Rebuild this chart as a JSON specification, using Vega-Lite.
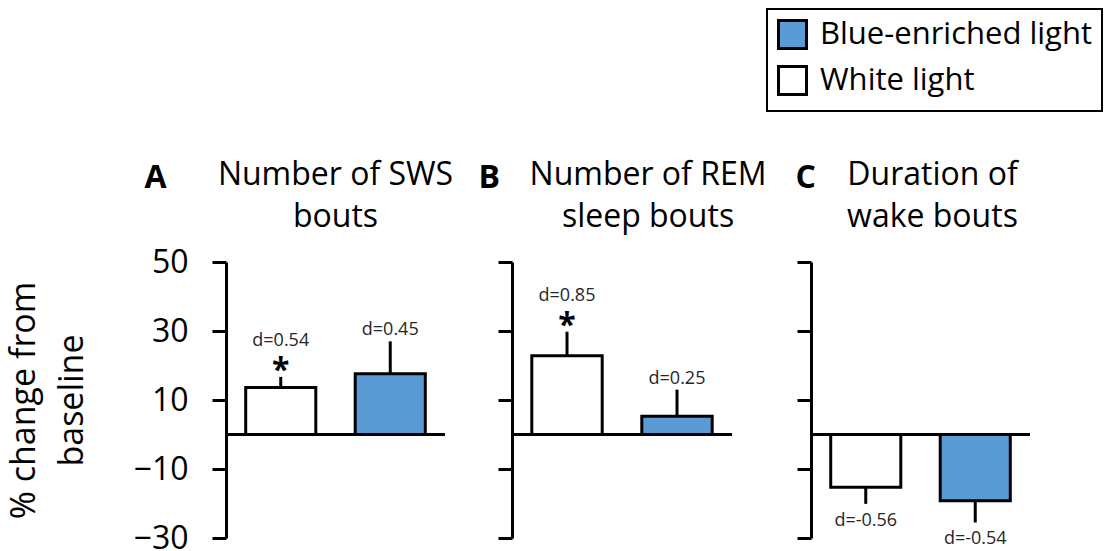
{
  "$schema": "https://vega.github.io/schema/vega-lite/v6.json",
  "background": "white",
  "padding": {"left": 7, "top": 8, "right": 0, "bottom": 0},
  "datasets": {
    "bars": [
      {"panel": "A", "condition": "White light", "mean": 13.6, "err": 16.7, "d": "d=0.54", "star": "*"},
      {"panel": "A", "condition": "Blue-enriched light", "mean": 17.6, "err": 27.0, "d": "d=0.45", "star": ""},
      {"panel": "B", "condition": "White light", "mean": 22.8, "err": 29.8, "d": "d=0.85", "star": "*"},
      {"panel": "B", "condition": "Blue-enriched light", "mean": 5.3, "err": 13.0, "d": "d=0.25", "star": ""},
      {"panel": "C", "condition": "White light", "mean": -15.3, "err": -20.1, "d": "d=-0.56", "star": ""},
      {"panel": "C", "condition": "Blue-enriched light", "mean": -19.2, "err": -25.5, "d": "d=-0.54", "star": ""}
    ]
  },
  "config": {
    "view": {"stroke": null},
    "font": "Open Sans",
    "axis": {
      "domainColor": "black", "domainWidth": 3, "tickColor": "black", "tickWidth": 3, "tickSize": 14,
      "grid": false, "labelColor": "black", "labelFont": "Open Sans", "labelFontSize": 32, "labelPadding": 24,
      "titleFont": "Open Sans", "titleColor": "black", "titleFontWeight": "normal"
    },
    "legend": {
      "orient": "none", "legendX": 541, "legendY": -253,
      "symbolType": "square", "symbolSize": 784, "symbolStrokeColor": "black", "symbolStrokeWidth": 3,
      "labelFont": "Open Sans", "labelFontSize": 31, "labelColor": "black", "labelOffset": 12, "labelLimit": 400,
      "rowPadding": 5, "padding": 10, "strokeColor": "black", "strokeWidth": 2, "fillColor": "white"
    }
  },
  "bounds": "flush",
  "spacing": 67,
  "hconcat": [
    {
      "width": 219, "height": 276,
      "data": {"name": "bars"},
      "transform": [{"filter": "datum.panel === 'A'"}],
      "title": {"text": ["Number of SWS", "bouts"], "frame": "group", "anchor": "middle", "fontSize": 32, "fontWeight": "normal", "font": "Open Sans", "color": "black", "lineHeight": 42, "baseline": "bottom", "offset": -105, "dx": 0},
      "layer": [
        {"mark": {"type": "rule", "stroke": "black", "strokeWidth": 3}, "encoding": {"y": {"datum": 0, "type": "quantitative"}}},
        {
          "mark": {"type": "bar", "stroke": "black", "strokeWidth": 3},
          "encoding": {
            "x": {"field": "condition", "type": "nominal", "sort": ["White light", "Blue-enriched light"], "scale": {"paddingInner": 0.36, "paddingOuter": 0.18},
              "axis": {"orient": "top", "domain": false, "ticks": false, "labels": false, "title": "A", "titleX": -82, "titleY": -75, "titleAngle": 0, "titleAlign": "left", "titleBaseline": "alphabetic", "titleFontWeight": "bold", "titleFontSize": 32}},
            "y": {"field": "mean", "type": "quantitative", "scale": {"domain": [-30, 50], "nice": false, "zero": false},
              "axis": {"values": [-30, -10, 10, 30, 50], "title": ["% change from", "baseline"], "titleFontSize": 34, "titleLineHeight": 48, "titlePadding": 44}},
            "fill": {"field": "condition", "type": "nominal", "scale": {"domain": ["Blue-enriched light", "White light"], "range": ["#5B9BD5", "#FFFFFF"]}, "legend": {"title": null}}
          }
        },
        {"mark": {"type": "rule", "stroke": "black", "strokeWidth": 3}, "encoding": {"x": {"field": "condition", "type": "nominal", "sort": ["White light", "Blue-enriched light"]}, "y": {"field": "mean", "type": "quantitative"}, "y2": {"field": "err"}}},
        {"transform": [{"filter": "datum.err > 0 && datum.star === '*'"}], "mark": {"type": "text", "fontSize": 18, "baseline": "alphabetic", "dy": -31, "color": "#262626"}, "encoding": {"x": {"field": "condition", "type": "nominal", "sort": ["White light", "Blue-enriched light"]}, "y": {"field": "err", "type": "quantitative"}, "text": {"field": "d"}}},
        {"transform": [{"filter": "datum.err > 0 && datum.star === ''"}], "mark": {"type": "text", "fontSize": 18, "baseline": "alphabetic", "dy": -6, "color": "#262626"}, "encoding": {"x": {"field": "condition", "type": "nominal", "sort": ["White light", "Blue-enriched light"]}, "y": {"field": "err", "type": "quantitative"}, "text": {"field": "d"}}},
        {"transform": [{"filter": "datum.star === '*'"}], "mark": {"type": "text", "fontSize": 32, "fontWeight": "bold", "baseline": "alphabetic", "dy": 4, "color": "black"}, "encoding": {"x": {"field": "condition", "type": "nominal", "sort": ["White light", "Blue-enriched light"]}, "y": {"field": "err", "type": "quantitative"}, "text": {"field": "star"}}}
      ]
    },
    {
      "bounds": "flush",
      "spacing": 79,
      "hconcat": [
        {
          "width": 220, "height": 276,
          "data": {"name": "bars"},
          "transform": [{"filter": "datum.panel === 'B'"}],
          "title": {"text": ["Number of REM", "sleep bouts"], "frame": "group", "anchor": "middle", "fontSize": 32, "fontWeight": "normal", "font": "Open Sans", "color": "black", "lineHeight": 42, "baseline": "bottom", "offset": -105, "dx": 26},
          "layer": [
            {"mark": {"type": "rule", "stroke": "black", "strokeWidth": 3}, "encoding": {"y": {"datum": 0, "type": "quantitative"}}},
            {
              "mark": {"type": "bar", "stroke": "black", "strokeWidth": 3},
              "encoding": {
                "x": {"field": "condition", "type": "nominal", "sort": ["White light", "Blue-enriched light"], "scale": {"paddingInner": 0.36, "paddingOuter": 0.18},
                  "axis": {"orient": "top", "domain": false, "ticks": false, "labels": false, "title": "B", "titleX": -34, "titleY": -75, "titleAngle": 0, "titleAlign": "left", "titleBaseline": "alphabetic", "titleFontWeight": "bold", "titleFontSize": 32}},
                "y": {"field": "mean", "type": "quantitative", "scale": {"domain": [-30, 50], "nice": false, "zero": false},
                  "axis": {"values": [-30, -10, 10, 30, 50], "labels": false, "title": null}},
                "fill": {"field": "condition", "type": "nominal", "scale": {"domain": ["Blue-enriched light", "White light"], "range": ["#5B9BD5", "#FFFFFF"]}, "legend": {"title": null}}
              }
            },
            {"mark": {"type": "rule", "stroke": "black", "strokeWidth": 3}, "encoding": {"x": {"field": "condition", "type": "nominal", "sort": ["White light", "Blue-enriched light"]}, "y": {"field": "mean", "type": "quantitative"}, "y2": {"field": "err"}}},
            {"transform": [{"filter": "datum.err > 0 && datum.star === '*'"}], "mark": {"type": "text", "fontSize": 18, "baseline": "alphabetic", "dy": -31, "color": "#262626"}, "encoding": {"x": {"field": "condition", "type": "nominal", "sort": ["White light", "Blue-enriched light"]}, "y": {"field": "err", "type": "quantitative"}, "text": {"field": "d"}}},
            {"transform": [{"filter": "datum.err > 0 && datum.star === ''"}], "mark": {"type": "text", "fontSize": 18, "baseline": "alphabetic", "dy": -6, "color": "#262626"}, "encoding": {"x": {"field": "condition", "type": "nominal", "sort": ["White light", "Blue-enriched light"]}, "y": {"field": "err", "type": "quantitative"}, "text": {"field": "d"}}},
            {"transform": [{"filter": "datum.star === '*'"}], "mark": {"type": "text", "fontSize": 32, "fontWeight": "bold", "baseline": "alphabetic", "dy": 4, "color": "black"}, "encoding": {"x": {"field": "condition", "type": "nominal", "sort": ["White light", "Blue-enriched light"]}, "y": {"field": "err", "type": "quantitative"}, "text": {"field": "star"}}}
          ]
        },
        {
          "width": 219, "height": 276,
          "data": {"name": "bars"},
          "transform": [{"filter": "datum.panel === 'C'"}],
          "title": {"text": ["Duration of", "wake bouts"], "frame": "group", "anchor": "middle", "fontSize": 32, "fontWeight": "normal", "font": "Open Sans", "color": "black", "lineHeight": 42, "baseline": "bottom", "offset": -105, "dx": 12},
          "layer": [
            {"mark": {"type": "rule", "stroke": "black", "strokeWidth": 3}, "encoding": {"y": {"datum": 0, "type": "quantitative"}}},
            {
              "mark": {"type": "bar", "stroke": "black", "strokeWidth": 3},
              "encoding": {
                "x": {"field": "condition", "type": "nominal", "sort": ["White light", "Blue-enriched light"], "scale": {"paddingInner": 0.36, "paddingOuter": 0.18},
                  "axis": {"orient": "top", "domain": false, "ticks": false, "labels": false, "title": "C", "titleX": -16, "titleY": -75, "titleAngle": 0, "titleAlign": "left", "titleBaseline": "alphabetic", "titleFontWeight": "bold", "titleFontSize": 32}},
                "y": {"field": "mean", "type": "quantitative", "scale": {"domain": [-30, 50], "nice": false, "zero": false},
                  "axis": {"values": [-30, -10, 10, 30, 50], "labels": false, "title": null}},
                "fill": {"field": "condition", "type": "nominal", "scale": {"domain": ["Blue-enriched light", "White light"], "range": ["#5B9BD5", "#FFFFFF"]}, "legend": {"title": null}}
              }
            },
            {"mark": {"type": "rule", "stroke": "black", "strokeWidth": 3}, "encoding": {"x": {"field": "condition", "type": "nominal", "sort": ["White light", "Blue-enriched light"]}, "y": {"field": "mean", "type": "quantitative"}, "y2": {"field": "err"}}},
            {"transform": [{"filter": "datum.err < 0"}], "mark": {"type": "text", "fontSize": 18, "baseline": "top", "dy": 8, "color": "#262626"}, "encoding": {"x": {"field": "condition", "type": "nominal", "sort": ["White light", "Blue-enriched light"]}, "y": {"field": "err", "type": "quantitative"}, "text": {"field": "d"}}}
          ]
        }
      ]
    }
  ]
}
